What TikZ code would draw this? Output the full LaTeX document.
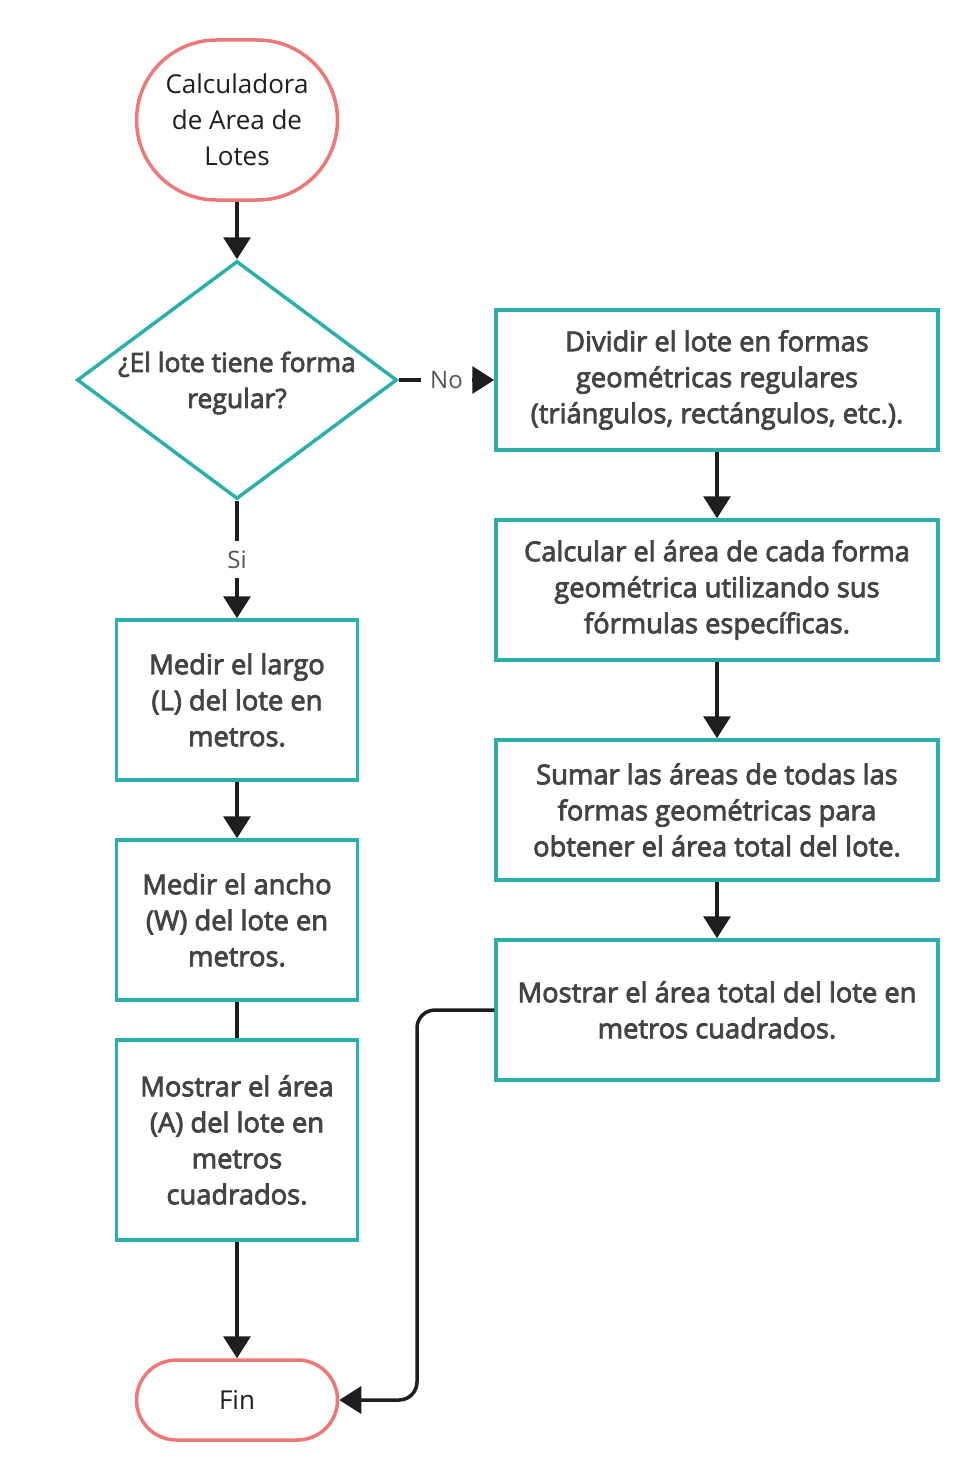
\documentclass[tikz,border=0pt]{standalone}
\usepackage{fontspec}
\setmainfont{Open Sans}
\newfontfamily\boxfont[FakeBold=3]{Open Sans}
\usetikzlibrary{shapes.geometric,arrows.meta}
\definecolor{teal}{HTML}{2BAFAA}
\definecolor{term}{HTML}{EE7777}
\definecolor{boxtxt}{HTML}{444444}
\definecolor{lbltxt}{HTML}{555555}
\definecolor{ln}{HTML}{1E1E1E}
\tikzset{
  stepbox/.style={draw=teal, line width=3.5pt, fill=white, rectangle, inner sep=0pt,
    align=center, text=boxtxt, font=\boxfont\fontsize{27.3}{36}\selectfont},
  termbox/.style={draw=term, line width=3.5pt, fill=white, rectangle, inner sep=0pt,
    align=center, text=ln, font=\fontsize{26}{36}\selectfont},
  decbox/.style={draw=teal, line width=3.5pt, diamond, inner sep=0pt},
  dectext/.style={align=center, text=boxtxt, font=\boxfont\fontsize{26.5}{36}\selectfont},
  conn/.style={draw=ln, line width=3.5pt},
  arr/.style={conn, -{Triangle[width=27pt,length=22pt]}},
  lbl/.style={fill=white, text=lbltxt, font=\fontsize{24}{30}\selectfont, inner xsep=9pt, inner ysep=10pt}
}
\begin{document}
\begin{tikzpicture}[x=1pt,y=-1pt]
\useasboundingbox (0,0) rectangle (978,1480);
% terminals
\node[termbox, minimum width=201pt, minimum height=160pt, rounded corners=80pt] (start) at (237,120)
  {Calculadora\\de Area de\\Lotes};
\node[termbox, minimum width=201pt, minimum height=80pt, rounded corners=40pt] (fin) at (237,1400) {Fin};
% decision
\node[decbox, minimum width=320pt, minimum height=238pt] (dec) at (237,380) {};
\node[dectext] (dectxt) at (237,383) {¿El lote tiene forma\\regular?};
% left column
\node[stepbox, minimum width=241pt, minimum height=160pt] (l1) at (237,700) {Medir el largo\\(L) del lote en\\metros.};
\node[stepbox, minimum width=241pt, minimum height=160pt] (l2) at (237,920) {Medir el ancho\\(W) del lote en\\metros.};
\node[stepbox, minimum width=241pt, minimum height=200pt] (l3) at (237,1140) {Mostrar el área\\(A) del lote en\\metros\\cuadrados.};
% right column
\node[stepbox, minimum width=442pt, minimum height=140pt] (r1) at (717,380) {Dividir el lote en formas\\geométricas regulares\\(triángulos, rectángulos, etc.).};
\node[stepbox, minimum width=442pt, minimum height=140pt] (r2) at (717,590) {Calcular el área de cada forma\\geométrica utilizando sus\\fórmulas específicas.};
\node[stepbox, minimum width=442pt, minimum height=140pt] (r3) at (717,810) {Sumar las áreas de todas las\\formas geométricas para\\obtener el área total del lote.};
\node[stepbox, minimum width=442pt, minimum height=140pt] (r4) at (717,1010) {Mostrar el área total del lote en\\metros cuadrados.};
\coordinate (bend) at (417,1010);
% connectors
\draw[arr] (start.south) -- (dec.north);
\draw[arr] (dec.east) -- node[lbl] {No} (r1.west);
\draw[arr] (dec.south) -- node[lbl] {Si} (l1.north);
\draw[arr] (l1.south) -- (l2.north);
\draw[conn] (l2.south) -- (l3.north);
\draw[arr] (l3.south) -- (fin.north);
\draw[arr] (r1.south) -- (r2.north);
\draw[arr] (r2.south) -- (r3.north);
\draw[arr] (r3.south) -- (r4.north);
\draw[arr, rounded corners=18pt] (r4.west) -- (bend) |- (fin.east);
\end{tikzpicture}
\end{document}
